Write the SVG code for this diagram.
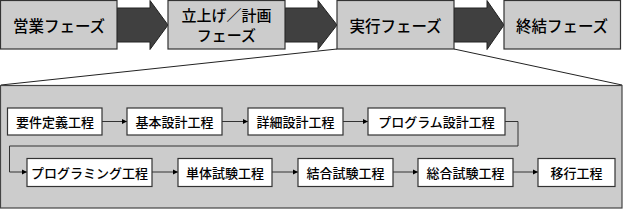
<svg xmlns="http://www.w3.org/2000/svg" width="623" height="209" viewBox="0 0 623 209">
<defs>
<style>
.phase{fill:#cccccc;stroke:#333333;stroke-width:1.2}
.big{fill:#404040;stroke:#222222;stroke-width:1}
.pt{font-family:"Noto Sans CJK JP","Noto Sans CJK SC",sans-serif;font-size:15.5px;fill:#000;text-anchor:middle;dominant-baseline:central;font-weight:500}
.pt2{font-family:"Noto Sans CJK JP","Noto Sans CJK SC",sans-serif;font-size:15px;fill:#000;text-anchor:middle;dominant-baseline:central;font-weight:500}
.st{fill:#ffffff;stroke:#333333;stroke-width:1.2}
.tt{font-family:"Noto Sans CJK JP","Noto Sans CJK SC",sans-serif;font-size:13px;fill:#000;text-anchor:middle;dominant-baseline:central;font-weight:500}
.con{fill:none;stroke:#333333;stroke-width:1}
.zoom{fill:none;stroke:#222222;stroke-width:1}
</style>
<marker id="ah" markerWidth="6" markerHeight="6" refX="5" refY="3" orient="auto" markerUnits="userSpaceOnUse">
<path d="M0,0.5 L5,3 L0,5.5 Z" fill="#000"/>
</marker>
</defs>
<rect width="623" height="209" fill="#ffffff"/>

<g id="zoomlines">
<line class="zoom" x1="337" y1="49" x2="1" y2="85"/>
<line class="zoom" x1="454" y1="49" x2="622" y2="85"/>
</g>

<g id="panel">
<rect x="0.5" y="85.5" width="621.5" height="122.5" fill="#cccccc" stroke="#444444" stroke-width="1.2"/>
</g>

<g id="bigarrows">
<polygon class="big" points="117,8 150,8 150,0.5 168,25 150,49.5 150,42 117,42"/>
<polygon class="big" points="285,8 318,8 318,0.5 337,25 318,49.5 318,42 285,42"/>
<polygon class="big" points="454,8 487,8 487,0.5 504,25 487,49.5 487,42 454,42"/>
</g>

<g id="phase1"><rect class="phase" x="0.5" y="0.5" width="116.5" height="48.5"/><text class="pt" x="59" y="25">営業フェーズ</text></g>
<g id="phase2"><rect class="phase" x="168" y="0.5" width="117" height="48.5"/><text class="pt2" x="226.5" y="14.5">立上げ／計画</text><text class="pt2" x="226.5" y="34.5">フェーズ</text></g>
<g id="phase3"><rect class="phase" x="337" y="0.5" width="117" height="48.5"/><text class="pt" x="395.5" y="25">実行フェーズ</text></g>
<g id="phase4"><rect class="phase" x="504" y="0.5" width="116.5" height="48.5"/><text class="pt" x="562" y="25">終結フェーズ</text></g>

<g id="connectors">
<line class="con" x1="102" y1="121.5" x2="127" y2="121.5" marker-end="url(#ah)"/>
<line class="con" x1="222" y1="121.5" x2="248" y2="121.5" marker-end="url(#ah)"/>
<line class="con" x1="343" y1="121.5" x2="368" y2="121.5" marker-end="url(#ah)"/>
<polyline class="con" points="505,121.5 518,121.5 518,146 9.5,146 9.5,172 27,172" marker-end="url(#ah)"/>
<line class="con" x1="152" y1="172" x2="178" y2="172" marker-end="url(#ah)"/>
<line class="con" x1="272" y1="172" x2="298" y2="172" marker-end="url(#ah)"/>
<line class="con" x1="393" y1="172" x2="418" y2="172" marker-end="url(#ah)"/>
<line class="con" x1="513" y1="172" x2="538" y2="172" marker-end="url(#ah)"/>
</g>

<g id="s1"><rect class="st" x="7.5" y="108" width="94.5" height="27"/><text class="tt" x="55" y="121.5">要件定義工程</text></g>
<g id="s2"><rect class="st" x="127" y="108" width="95" height="27"/><text class="tt" x="174.5" y="121.5">基本設計工程</text></g>
<g id="s3"><rect class="st" x="248" y="108" width="95" height="27"/><text class="tt" x="295.5" y="121.5">詳細設計工程</text></g>
<g id="s4"><rect class="st" x="368" y="108" width="137" height="27"/><text class="tt" x="436.5" y="121.5">プログラム設計工程</text></g>
<g id="s5"><rect class="st" x="27" y="158.5" width="125" height="28"/><text class="tt" x="89.5" y="172">プログラミング工程</text></g>
<g id="s6"><rect class="st" x="178" y="158.5" width="94" height="28"/><text class="tt" x="225" y="172">単体試験工程</text></g>
<g id="s7"><rect class="st" x="298" y="158.5" width="95" height="28"/><text class="tt" x="345.5" y="172">結合試験工程</text></g>
<g id="s8"><rect class="st" x="418" y="158.5" width="95" height="28"/><text class="tt" x="465.5" y="172">総合試験工程</text></g>
<g id="s9"><rect class="st" x="538" y="158.5" width="77" height="28"/><text class="tt" x="576.5" y="172">移行工程</text></g>
</svg>
